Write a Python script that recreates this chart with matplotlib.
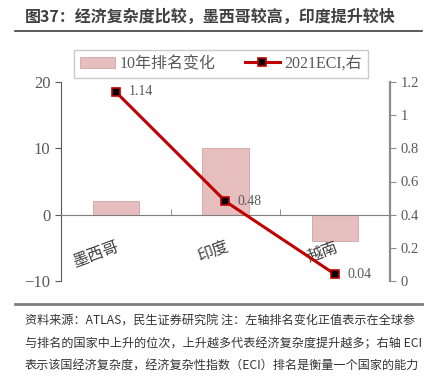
import matplotlib.pyplot as plt
import numpy as np
from matplotlib.ticker import FuncFormatter

plt.rcParams['font.family'] = ['Liberation Serif', 'Noto Sans CJK SC', 'DejaVu Sans']

countries = ['墨西哥', '印度', '越南']
rank_change = [2, 10, -4]       # 10年排名变化 (左轴)
eci_2021 = [1.14, 0.48, 0.04]   # 2021 ECI (右轴)

title = '图37：经济复杂度比较，墨西哥较高，印度提升较快'
note_lines = [
    '资料来源：ATLAS，民生证券研究院 注：左轴排名变化正值表示在全球参',
    '与排名的国家中上升的位次，上升越多代表经济复杂度提升越多；右轴 ECI',
    '表示该国经济复杂度，经济复杂性指数（ECI）排名是衡量一个国家的能力',
    '和知识的指标，通过其出口产品的多样性和复杂性来衡量。',
]

cjk = ['Noto Sans CJK SC', 'DejaVu Sans']
grey = '#595959'

fig = plt.figure(figsize=(4.35, 3.78), dpi=100)
ax = fig.add_axes([61/435, 1 - 281/378, 329/435, 199/378])
ax2 = ax.twinx()

x = np.arange(len(countries))
bars = ax.bar(x, rank_change, width=0.42, color='#E6BEBE', edgecolor='#D4A4A4',
              linewidth=0.6, label='10年排名变化', zorder=1)
ax.set_xlim(-0.5, 2.5)
ax.set_ylim(-10, 20)
ax.set_yticks([-10, 0, 10, 20])

line, = ax2.plot(x, eci_2021, color='#C00000', lw=2.2, marker='s', markersize=6,
                 markerfacecolor='black', markeredgecolor='#C00000',
                 markeredgewidth=1.2, label='2021ECI,右', zorder=3)
ax2.set_ylim(0, 1.2)
ax2.set_yticks(np.arange(0, 1.21, 0.2))
ax2.yaxis.set_major_formatter(FuncFormatter(lambda v, p: '%g' % round(v, 1)))

for xi, v in zip(x, eci_2021):
    ax2.annotate('%.2f' % v, (xi, v), xytext=(9, 0), textcoords='offset points',
                 va='center', ha='left', fontsize=10, color=grey)

# spines
ax.spines['top'].set_visible(False)
ax2.spines['top'].set_visible(False)
ax.spines['right'].set_visible(False)
ax2.spines['left'].set_visible(False)
ax2.spines['bottom'].set_visible(False)
ax.spines['bottom'].set_position(('data', 0))
ax.spines['bottom'].set_color('#7f7f7f')
ax.spines['left'].set_color('#595959')
ax2.spines['right'].set_color('#8c8c8c')
ax2.spines['right'].set_linewidth(1.6)

ax.set_xticks(x)
ax.set_xticklabels(countries, rotation=20, ha='right', rotation_mode='anchor',
                   family=cjk, fontsize=11.5, color='#404040')
ax.tick_params(axis='x', length=0, pad=17)
ax.set_xticks([0.5, 1.5], minor=True)
ax.tick_params(axis='x', which='minor', direction='in', length=4, color='#7f7f7f')
ax.tick_params(axis='y', labelsize=12, colors=grey, length=4, color='#595959')
ax2.tick_params(axis='y', labelsize=10.5, colors=grey, length=4, color='#8c8c8c')

leg = fig.legend([bars, line], ['10年排名变化', '2021ECI,右'], ncol=2,
                 loc='center', bbox_to_anchor=(221/435, 1 - 64/378),
                 fontsize=11.5, frameon=True, fancybox=False, edgecolor='#bfbfbf',
                 handlelength=2.2, handletextpad=0.3, columnspacing=1.8,
                 borderpad=0.35)
for t in leg.get_texts():
    t.set_color(grey)

# title + rules
fig.text(25/435, 1 - 17/378, title, family=cjk, fontsize=11.5, fontweight='bold',
         color='#404040', va='center', ha='left')
fig.add_artist(plt.Line2D([15/435, 422/435], [1 - 31/378] * 2, color='#404040', lw=1.2))
fig.add_artist(plt.Line2D([15/435, 422/435], [1 - 304/378] * 2, color='#7f7f7f', lw=2))

# footnote; the last line is cut by the bottom edge as in the source
for i, s in enumerate(note_lines):
    fig.text(25/435, 1 - (321.5 + i * 22.5)/378, s, family=cjk, fontsize=8.7,
             color='#333333', va='center', ha='left')

fig.savefig('out.png', dpi=100)
